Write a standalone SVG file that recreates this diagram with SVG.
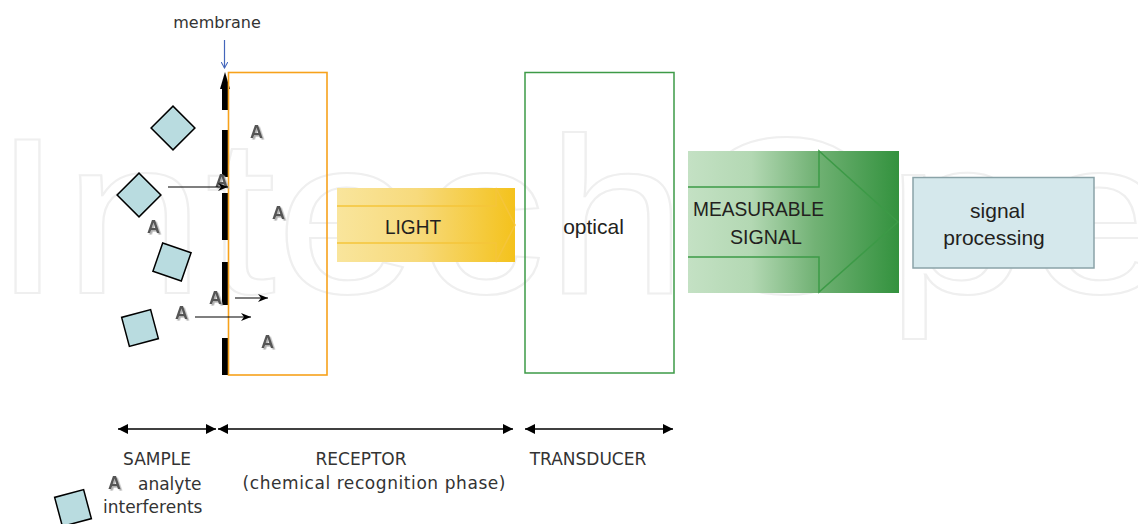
<svg xmlns="http://www.w3.org/2000/svg" width="1138" height="524" viewBox="0 0 1138 524">
<style>
.lbl{font-family:"DejaVu Sans",Verdana,sans-serif;font-size:17px;fill:#333;}
.big{font-family:"Liberation Sans",Arial,sans-serif;font-size:21px;fill:#231f20;}
.a{font-family:"Liberation Sans",Arial,sans-serif;font-weight:bold;font-size:18px;fill:#555;filter:url(#sh);}
.part{fill:#b9dce0;stroke:#000;stroke-width:1.5;}
.thin{stroke:#000;stroke-width:1.2;fill:none;}
.dim{stroke:#000;stroke-width:1.5;fill:none;}
</style>
<defs>
<filter id="sh" x="-30%" y="-30%" width="160%" height="160%">
<feDropShadow dx="1.6" dy="1.6" stdDeviation="0.3" flood-color="#b0b0b0" flood-opacity="1"/>
</filter>
<linearGradient id="gLight" x1="0" y1="0" x2="1" y2="0">
<stop offset="0" stop-color="#f9e59c"/>
<stop offset="0.45" stop-color="#f7da7c"/>
<stop offset="1" stop-color="#f4c21c"/>
</linearGradient>
<linearGradient id="gSig" x1="0" y1="0" x2="1" y2="0">
<stop offset="0" stop-color="#c4e1c4"/>
<stop offset="0.3" stop-color="#b3d8b3"/>
<stop offset="0.6" stop-color="#72b275"/>
<stop offset="1" stop-color="#33923e"/>
</linearGradient>
<marker id="hd" viewBox="0 0 10 10" refX="10" refY="5" markerWidth="10" markerHeight="10" markerUnits="userSpaceOnUse" orient="auto-start-reverse">
<path d="M0,0 L10,5 L0,10 Z" fill="#000"/>
</marker>
<marker id="hs" viewBox="0 0 10 8" refX="10" refY="4" markerWidth="11" markerHeight="8" markerUnits="userSpaceOnUse" orient="auto">
<path d="M0,0 L10,4 L0,8 L3,4 Z" fill="#000"/>
</marker>
<marker id="hb" viewBox="0 0 10 10" refX="9" refY="5" markerWidth="7" markerHeight="7" markerUnits="userSpaceOnUse" orient="auto">
<path d="M0,0 L9,5 L0,10" fill="none" stroke="#4466bb" stroke-width="1.5"/>
</marker>
</defs>
<rect width="1138" height="524" fill="#fff"/>
<text x="-8" y="293" font-family="Liberation Sans,Arial,sans-serif" font-size="222" fill="none" stroke="#efefef" stroke-width="2" textLength="1320" lengthAdjust="spacingAndGlyphs">IntechOpen</text>

<g id="membrane">
<path d="M225,88 V110 M225,130 V177 M225,193 V240 M225,262 V305 M225,338 V375" stroke="#000" stroke-width="6" fill="none"/>
<path d="M220,89 L225,72 L230,89 Z" fill="#000"/>
<text x="217" y="28" text-anchor="middle" class="lbl" style="font-size:16px">membrane</text>
</g>
<g id="receptor">
<rect x="228.5" y="72.5" width="98.5" height="302.5" fill="none" stroke="#f7a21b" stroke-width="1.6"/>
</g>
<g id="particles">
<rect class="part" x="-15.5" y="-15.5" width="31" height="31" transform="translate(173,128) rotate(45)"/>
<rect class="part" x="-15.5" y="-15.5" width="31" height="31" transform="translate(139,195) rotate(45)"/>
<rect class="part" x="-15" y="-15" width="30" height="30" transform="translate(172,262) rotate(19)"/>
<rect class="part" x="-15" y="-15" width="30" height="30" transform="translate(140,328) rotate(-15)"/>
</g>
<g id="analytes">
<text class="a" x="250" y="138">A</text>
<text class="a" x="215" y="187">A</text>
<text class="a" x="147" y="233">A</text>
<text class="a" x="272" y="219">A</text>
<text class="a" x="209" y="304">A</text>
<text class="a" x="175" y="319">A</text>
<text class="a" x="261" y="348">A</text>
</g>
<g id="light">
<rect x="337" y="188" width="178" height="74" fill="url(#gLight)"/>
<path d="M337,206 H496 V188 L515,225 L496,262 V243 H337" fill="none" stroke="#f5c53a" stroke-width="1.5"/>
<text class="big" x="413" y="234" text-anchor="middle" font-size="22" textLength="56" lengthAdjust="spacingAndGlyphs">LIGHT</text>
</g>
<g id="transducer">
<rect x="525" y="72.5" width="149" height="300.5" fill="none" stroke="#3d9a47" stroke-width="1.5"/>
<text class="big" x="593.5" y="234" text-anchor="middle" font-size="22">optical</text>
</g>
<g id="signal">
<rect x="688" y="151" width="211" height="142" fill="url(#gSig)"/>
<path d="M688,187 H819 V151 L898,222 L819,292 V257 H688" fill="none" stroke="#3d9a47" stroke-width="1.5"/>
<text class="big" x="758.5" y="216" text-anchor="middle" textLength="131" lengthAdjust="spacingAndGlyphs">MEASURABLE</text>
<text class="big" x="766" y="244" text-anchor="middle" textLength="72" lengthAdjust="spacingAndGlyphs">SIGNAL</text>
</g>
<g id="processing">
<rect x="913" y="177.5" width="181" height="90.5" fill="#d5e8ec" stroke="#8aa3a8" stroke-width="1.5"/>
<text class="big" x="997.5" y="218" text-anchor="middle">signal</text>
<text class="big" x="994" y="245" text-anchor="middle">processing</text>
</g>
<g id="connectors">
<line x1="224.5" y1="40" x2="224.5" y2="68" stroke="#4466bb" stroke-width="1.2" marker-end="url(#hb)"/>
<line class="thin" x1="168" y1="187" x2="228" y2="187" marker-end="url(#hs)"/>
<line class="thin" x1="235" y1="298" x2="268" y2="298" marker-end="url(#hs)"/>
<line class="thin" x1="195" y1="317" x2="251" y2="317" marker-end="url(#hs)"/>
<line class="dim" x1="118" y1="429" x2="216" y2="429" marker-start="url(#hd)" marker-end="url(#hd)"/>
<line class="dim" x1="218" y1="429" x2="513" y2="429" marker-start="url(#hd)" marker-end="url(#hd)"/>
<line class="dim" x1="525" y1="429" x2="673" y2="429" marker-start="url(#hd)" marker-end="url(#hd)"/>
</g>
<g id="labels">
<text class="lbl" x="157" y="465" text-anchor="middle">SAMPLE</text>
<text class="lbl" x="361" y="465" text-anchor="middle">RECEPTOR</text>
<text class="lbl" x="374" y="489" text-anchor="middle" textLength="263">(chemical recognition phase)</text>
<text class="lbl" x="588" y="465" text-anchor="middle">TRANSDUCER</text>
</g>
<g id="legend">
<text class="a" x="108" y="489">A</text>
<text class="lbl" x="138" y="490">analyte</text>
<rect class="part" x="-15" y="-15" width="30" height="30" transform="translate(73,508) rotate(-15)"/>
<text class="lbl" x="103" y="513">interferents</text>
</g>
</svg>
